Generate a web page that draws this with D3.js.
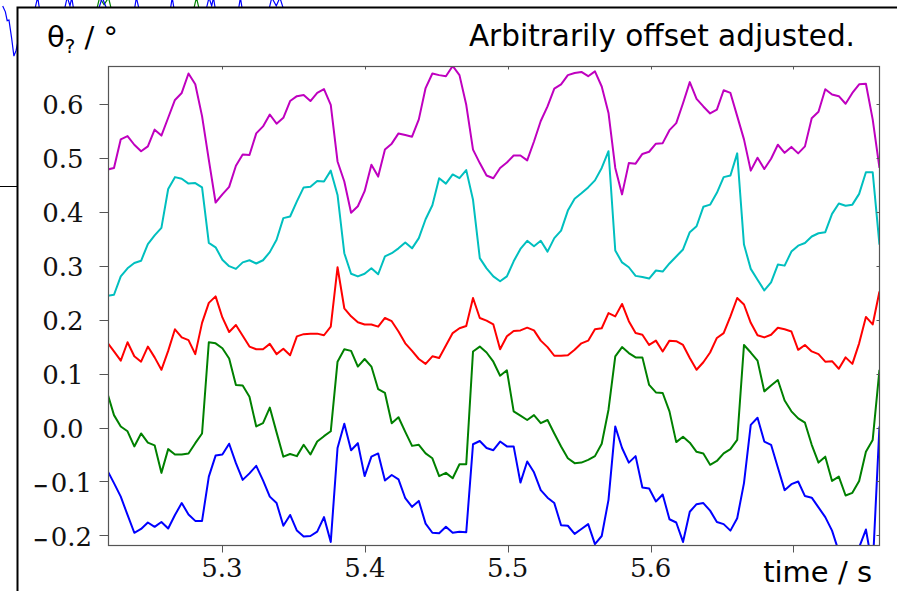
<!DOCTYPE html>
<html>
<head>
  <meta charset="utf-8">
  <title>Arbitrarily offset adjusted</title>
  <script src="https://cdn.jsdelivr.net/npm/d3@7"></script>
  <style>
    body { margin: 0; background: #fff; }
    svg { display: block; }
  </style>
</head>
<body>
  <svg id="grafico"></svg>

  <script>
    // sample times: first sample and step (s)
    const t0 = 5.2197;
    const dt = 0.004741;

    const magenta = [
      0.478, 0.481, 0.534, 0.540, 0.524, 0.512, 0.521, 0.552, 0.541, 0.574,
      0.607, 0.620, 0.656, 0.636, 0.577, 0.496, 0.417, 0.432, 0.446, 0.485,
      0.506, 0.505, 0.545, 0.558, 0.580, 0.563, 0.574, 0.605, 0.614, 0.616,
      0.605, 0.620, 0.627, 0.598, 0.493, 0.456, 0.398, 0.410, 0.438, 0.487,
      0.465, 0.515, 0.526, 0.545, 0.542, 0.539, 0.571, 0.629, 0.656, 0.653,
      0.651, 0.670, 0.653, 0.598, 0.515, 0.490, 0.467, 0.462, 0.481, 0.491,
      0.504, 0.504, 0.495, 0.530, 0.568, 0.595, 0.628, 0.636, 0.653, 0.657,
      0.659, 0.651, 0.660, 0.632, 0.583, 0.481, 0.432, 0.490, 0.489, 0.507,
      0.511, 0.526, 0.527, 0.551, 0.564, 0.601, 0.640, 0.609, 0.595, 0.582,
      0.589, 0.625, 0.620, 0.577, 0.534, 0.476, 0.500, 0.479, 0.498, 0.524,
      0.509, 0.520, 0.508, 0.521, 0.573, 0.585, 0.627, 0.617, 0.614, 0.600,
      0.620, 0.636, 0.637, 0.571, 0.481
    ];

    const cyan = [
      0.244, 0.246, 0.280, 0.295, 0.305, 0.309, 0.340, 0.356, 0.370, 0.442,
      0.464, 0.461, 0.452, 0.453, 0.445, 0.342, 0.334, 0.311, 0.299, 0.294,
      0.306, 0.310, 0.304, 0.310, 0.325, 0.348, 0.388, 0.391, 0.419, 0.445,
      0.446, 0.457, 0.456, 0.476, 0.431, 0.323, 0.285, 0.280, 0.285, 0.295,
      0.284, 0.317, 0.323, 0.332, 0.343, 0.332, 0.351, 0.386, 0.412, 0.462,
      0.452, 0.469, 0.462, 0.477, 0.422, 0.314, 0.295, 0.280, 0.271, 0.280,
      0.308, 0.331, 0.346, 0.336, 0.346, 0.326, 0.351, 0.365, 0.402, 0.424,
      0.434, 0.445, 0.458, 0.481, 0.512, 0.328, 0.306, 0.297, 0.281, 0.279,
      0.276, 0.291, 0.289, 0.304, 0.317, 0.330, 0.362, 0.373, 0.409, 0.413,
      0.435, 0.464, 0.467, 0.508, 0.339, 0.294, 0.274, 0.254, 0.269, 0.302,
      0.300, 0.326, 0.337, 0.342, 0.354, 0.360, 0.362, 0.396, 0.415, 0.411,
      0.413, 0.433, 0.473, 0.473, 0.339
    ];

    const red = [
      0.158, 0.141, 0.124, 0.158, 0.132, 0.122, 0.150, 0.130, 0.107, 0.142,
      0.182, 0.167, 0.162, 0.136, 0.194, 0.231, 0.243, 0.204, 0.177, 0.190,
      0.170, 0.150, 0.145, 0.145, 0.155, 0.136, 0.146, 0.134, 0.169, 0.173,
      0.174, 0.174, 0.171, 0.187, 0.297, 0.221, 0.206, 0.195, 0.191, 0.191,
      0.187, 0.203, 0.197, 0.178, 0.156, 0.142, 0.127, 0.118, 0.132, 0.129,
      0.152, 0.175, 0.184, 0.188, 0.240, 0.203, 0.198, 0.191, 0.145, 0.169,
      0.179, 0.180, 0.185, 0.180, 0.161, 0.149, 0.133, 0.133, 0.134, 0.144,
      0.156, 0.161, 0.182, 0.184, 0.212, 0.206, 0.229, 0.197, 0.175, 0.172,
      0.153, 0.161, 0.141, 0.161, 0.160, 0.153, 0.129, 0.107, 0.121, 0.139,
      0.166, 0.175, 0.206, 0.240, 0.228, 0.194, 0.171, 0.167, 0.172, 0.185,
      0.182, 0.178, 0.144, 0.153, 0.141, 0.136, 0.122, 0.123, 0.109, 0.130,
      0.118, 0.156, 0.205, 0.191, 0.252
    ];

    const green = [
      0.065, 0.023, 0.002, -0.007, -0.035, -0.011, -0.028, -0.033, -0.084, -0.040,
      -0.050, -0.050, -0.048, -0.029, -0.011, 0.158, 0.156, 0.147, 0.128, 0.079,
      0.078, 0.057, 0.002, 0.008, 0.037, -0.009, -0.054, -0.049, -0.053, -0.032,
      -0.050, -0.026, -0.016, -0.007, 0.122, 0.145, 0.142, 0.113, 0.127, 0.113,
      0.071, 0.064, 0.008, 0.019, -0.008, -0.034, -0.032, -0.048, -0.057, -0.090,
      -0.084, -0.094, -0.068, -0.068, 0.141, 0.150, 0.139, 0.122, 0.096, 0.106,
      0.030, 0.022, 0.014, 0.023, 0.008, 0.014, -0.011, -0.035, -0.057, -0.066,
      -0.065, -0.060, -0.053, -0.030, 0.033, 0.132, 0.149, 0.138, 0.130, 0.130,
      0.079, 0.065, 0.064, 0.030, -0.027, -0.017, -0.028, -0.045, -0.048, -0.069,
      -0.062, -0.048, -0.040, -0.023, 0.153, 0.139, 0.124, 0.067, 0.078, 0.088,
      0.050, 0.030, 0.017, 0.009, -0.032, -0.065, -0.054, -0.099, -0.091, -0.126,
      -0.121, -0.099, -0.045, -0.023, 0.107
    ];

    const blue = [
      -0.079, -0.103, -0.128, -0.162, -0.195, -0.188, -0.176, -0.184, -0.175, -0.187,
      -0.162, -0.140, -0.161, -0.173, -0.173, -0.091, -0.052, -0.050, -0.030, -0.066,
      -0.097, -0.085, -0.071, -0.098, -0.128, -0.140, -0.182, -0.162, -0.191, -0.202,
      -0.201, -0.193, -0.166, -0.212, -0.038, 0.007, -0.042, -0.029, -0.090, -0.054,
      -0.048, -0.098, -0.088, -0.096, -0.131, -0.147, -0.136, -0.178, -0.195, -0.196,
      -0.184, -0.195, -0.193, -0.194, -0.031, -0.025, -0.038, -0.042, -0.026, -0.035,
      -0.035, -0.102, -0.063, -0.083, -0.116, -0.130, -0.140, -0.181, -0.182, -0.197,
      -0.188, -0.179, -0.216, -0.201, -0.134, 0.002, -0.038, -0.065, -0.053, -0.111,
      -0.113, -0.137, -0.124, -0.170, -0.176, -0.212, -0.156, -0.142, -0.140, -0.154,
      -0.175, -0.179, -0.191, -0.168, -0.103, 0.005, 0.018, -0.026, -0.032, -0.074,
      -0.116, -0.105, -0.100, -0.127, -0.130, -0.148, -0.166, -0.191, -0.230, -0.255,
      -0.245, -0.222, -0.189, -0.260, 0.002
    ];

    const xTicks = [5.3, 5.4, 5.5, 5.6, 5.7];
    // the 5.7 label is hidden behind the axis title in the original
    const xTickLabels = ["5.3", "5.4", "5.5", "5.6", ""];
    const yTicks = [-0.2, -0.1, 0.0, 0.1, 0.2, 0.3, 0.4, 0.5, 0.6];
    const yTickLabels = ["\u22120.2", "\u22120.1", "0.0", "0.1", "0.2", "0.3", "0.4", "0.5", "0.6"];

    // bits of the figure lying behind the inset (only the edges show)
    // [x in % of width, y as fraction of height]
    const outerBlue = [
      [0.3, 0.99], [0.6, 0.98], [0.8, 0.965], [1.0, 0.966], [1.3, 0.935], [1.55, 0.905], [1.8, 0.915], [2.0, 0.93],
      [3.9, 0.985], [4.2, 1.005], [4.4, 0.985],
      [7.2, 0.985], [7.5, 1.005], [7.8, 0.99], [8.0, 1.004], [8.2, 0.985],
      [11.0, 0.985], [11.4, 1.004], [11.9, 0.985],
      [15.0, 0.985], [15.2, 1.004], [15.5, 0.985],
      [19.0, 0.985], [19.2, 1.004], [19.4, 0.985],
      [23.0, 0.985], [23.3, 1.004], [23.6, 0.99], [23.8, 1.004], [24.0, 0.985],
      [26.6, 0.985], [26.8, 1.004], [27.0, 0.985],
      [30.0, 0.985], [30.3, 1.004], [30.8, 0.99], [31.2, 1.004], [31.6, 0.985]
    ];
    const outerGreen = [
      [10.8, 0.985], [11.1, 1.004], [11.6, 0.992], [12.1, 1.004], [12.4, 0.985],
      [21.6, 0.985], [21.9, 1.004], [22.2, 0.985]
    ];

    const series = [
      { values: magenta, color: "#bf00bf" },
      { values: cyan, color: "#00bfbf" },
      { values: red, color: "#ff0000" },
      { values: green, color: "#008000" },
      { values: blue, color: "#0000ff" }
    ];

    const W = 897, H = 591;
    const svg = d3.select("#grafico")
      .attr("width", W)
      .attr("height", H)
      .style("font-family", "'DejaVu Sans', sans-serif");

    // outer figure scale
    const ox = d3.scaleLinear().domain([0, 100]).range([0, W]);
    const oy = d3.scaleLinear().domain([0, 1]).range([H, 0]);
    const outerLine = d3.line().x(d => ox(d[0])).y(d => oy(d[1]));

    svg.append("path")
      .datum(outerGreen)
      .attr("fill", "none")
      .attr("stroke", "#008000")
      .attr("stroke-width", 1.2)
      .attr("d", outerLine);
    svg.append("path")
      .datum(outerBlue)
      .attr("fill", "none")
      .attr("stroke", "#0000ff")
      .attr("stroke-width", 1.2)
      .attr("d", outerLine);

    svg.append("line")
      .attr("x1", 0).attr("x2", 18)
      .attr("y1", 186.5).attr("y2", 186.5)
      .attr("stroke", "#000")
      .attr("stroke-width", 1);

    // inset panel
    svg.append("rect")
      .attr("x", 17.5).attr("y", 7.5)
      .attr("width", W).attr("height", H)
      .attr("fill", "#fff")
      .attr("stroke", "#000")
      .attr("stroke-width", 2);

    const x = d3.scaleLinear().domain([5.2206, 5.7602]).range([108.5, 879.5]);
    const y = d3.scaleLinear().domain([-0.2186, 0.669]).range([545.5, 66.5]);

    const time = magenta.map((_, i) => t0 + i * dt);

    svg.append("clipPath").attr("id", "clip")
      .append("rect")
      .attr("x", x.range()[0]).attr("y", y.range()[1])
      .attr("width", x.range()[1] - x.range()[0])
      .attr("height", y.range()[0] - y.range()[1]);

    const line = d3.line()
      .x((d, i) => x(time[i]))
      .y(d => y(d));

    svg.append("g")
      .attr("clip-path", "url(#clip)")
      .selectAll("path")
      .data(series)
      .enter()
      .append("path")
      .attr("fill", "none")
      .attr("stroke", d => d.color)
      .attr("stroke-width", 2)
      .attr("stroke-linejoin", "round")
      .attr("d", d => line(d.values));

    // frame
    svg.append("rect")
      .attr("x", x.range()[0]).attr("y", y.range()[1])
      .attr("width", x.range()[1] - x.range()[0])
      .attr("height", y.range()[0] - y.range()[1])
      .attr("fill", "none")
      .attr("stroke", "#555")
      .attr("stroke-width", 1.2);

    const axisColor = "#555";

    // ticks: outward on left/bottom, inward on top/right
    svg.append("g").selectAll("line").data(yTicks).enter().append("line")
      .attr("x1", x.range()[0] - 9).attr("x2", x.range()[0])
      .attr("y1", d => Math.round(y(d)) + 0.5).attr("y2", d => Math.round(y(d)) + 0.5)
      .attr("stroke", axisColor);
    svg.append("g").selectAll("line").data(yTicks).enter().append("line")
      .attr("x1", x.range()[1] - 3).attr("x2", x.range()[1])
      .attr("y1", d => Math.round(y(d)) + 0.5).attr("y2", d => Math.round(y(d)) + 0.5)
      .attr("stroke", axisColor);
    svg.append("g").selectAll("line").data(xTicks).enter().append("line")
      .attr("x1", d => Math.round(x(d)) + 0.5).attr("x2", d => Math.round(x(d)) + 0.5)
      .attr("y1", y.range()[0]).attr("y2", y.range()[0] + 7)
      .attr("stroke", axisColor);
    svg.append("g").selectAll("line").data(xTicks).enter().append("line")
      .attr("x1", d => Math.round(x(d)) + 0.5).attr("x2", d => Math.round(x(d)) + 0.5)
      .attr("y1", y.range()[1]).attr("y2", y.range()[1] + 3)
      .attr("stroke", axisColor);

    // tick labels
    svg.append("g").selectAll("text")
      .data(xTicks.filter((d, i) => xTickLabels[i] !== ""))
      .enter().append("text")
      .attr("x", d => x(d))
      .attr("y", 577)
      .attr("text-anchor", "middle")
      .style("font-family", "'DejaVu Serif', serif")
      .style("font-size", "26px")
      .attr("fill", "#111")
      .text((d, i) => xTickLabels[i]);

    const yLab = svg.append("g").selectAll("text").data(yTicks).enter().append("text")
      .attr("x", d => d < 0 ? 92 : 83.5)
      .attr("y", d => y(d) + 10.5)
      .attr("text-anchor", "end")
      .style("font-family", "'DejaVu Serif', serif")
      .style("font-size", "26px")
      .attr("fill", "#111");
    yLab.each(function (d, i) {
      const lab = yTickLabels[i];
      const t = d3.select(this);
      if (lab.startsWith("\u2212")) {
        t.append("tspan")
          .style("font-family", "'DejaVu Sans', sans-serif")
          .style("font-size", "19px")
          .style("font-weight", "bold")
          .text("\u2212");
        t.append("tspan").attr("dx", 2).text(lab.slice(1));
      } else {
        t.text(lab);
      }
    });

    // texts
    const ylabel = svg.append("text")
      .attr("x", 47)
      .attr("y", 46.5)
      .style("font-size", "29px")
      .attr("fill", "#000");
    ylabel.append("tspan").text("\u03b8");
    ylabel.append("tspan").attr("dy", 6).style("font-size", "20px").text("?");
    ylabel.append("tspan").attr("dy", -6).text(" / \u00b0");

    svg.append("text")
      .attr("x", 855)
      .attr("y", 45.5)
      .attr("text-anchor", "end")
      .style("font-size", "29.5px")
      .attr("fill", "#000")
      .text("Arbitrarily offset adjusted.");

    svg.append("text")
      .attr("x", 872)
      .attr("y", 582)
      .attr("text-anchor", "end")
      .style("font-size", "29px")
      .attr("fill", "#000")
      .text("time / s");
  </script>
</body>
</html>
